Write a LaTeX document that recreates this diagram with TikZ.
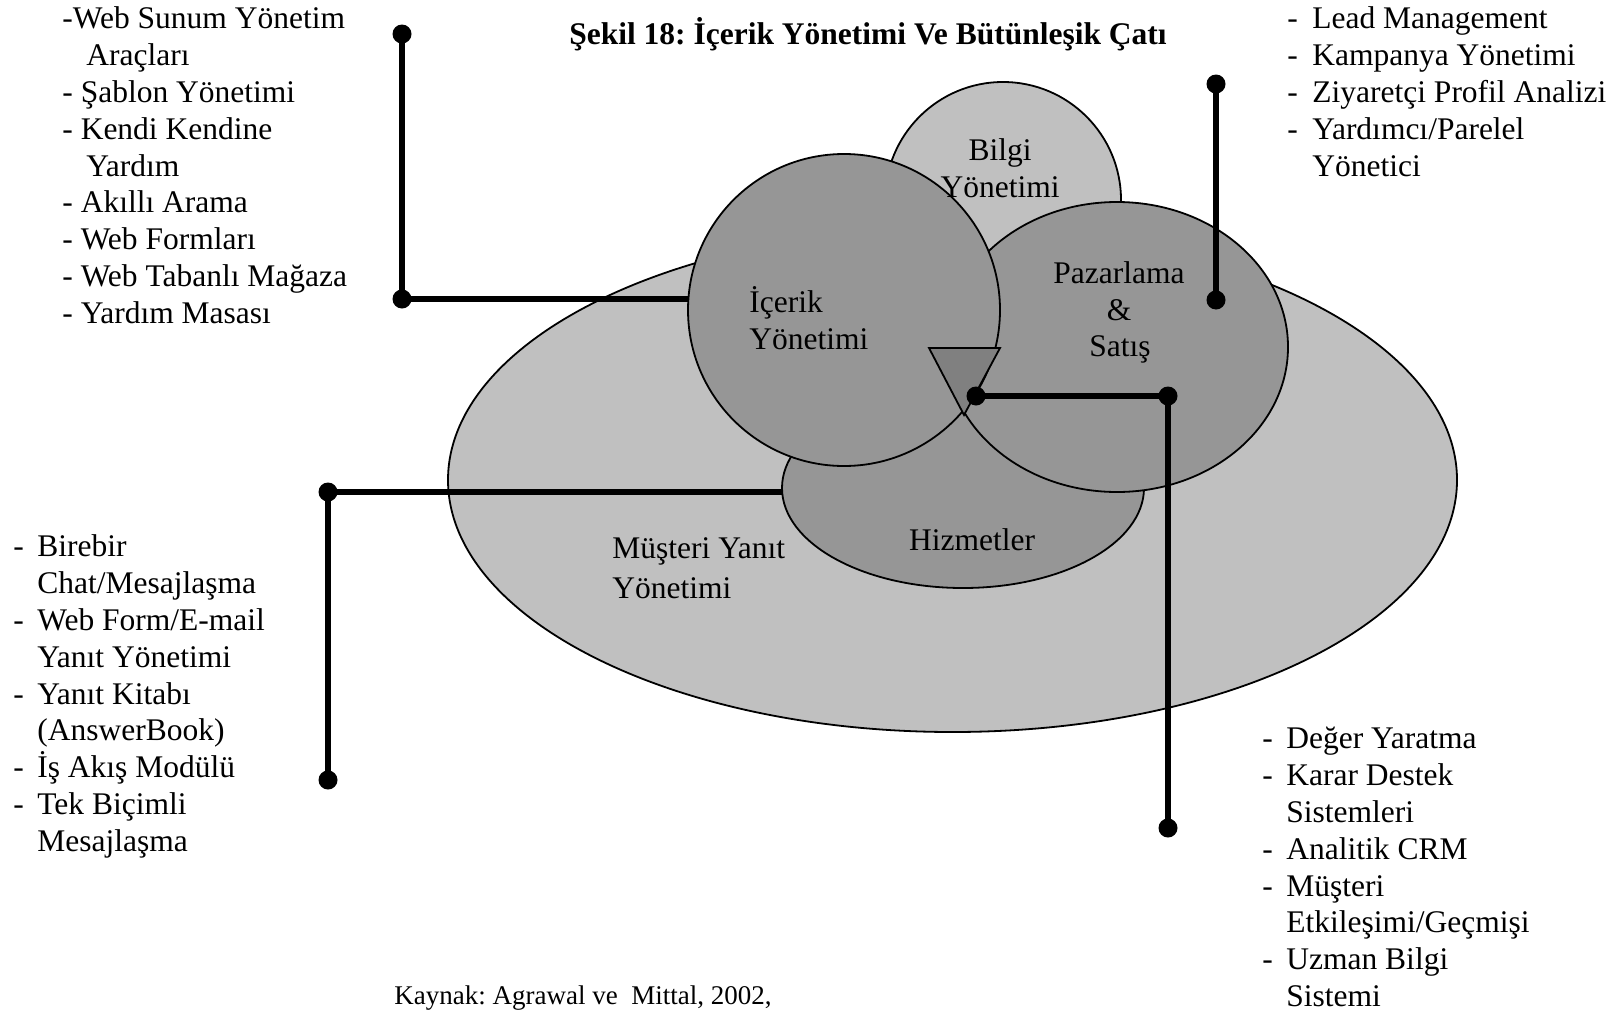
\documentclass[tikz,border=0pt]{standalone}
\usepackage{fontspec}
\setmainfont{Liberation Serif}
\usetikzlibrary{shapes.geometric}
\definecolor{lightfill}{RGB}{192,192,192}
\definecolor{midfill}{RGB}{150,150,150}
\definecolor{darkfill}{RGB}{128,128,128}
\frenchspacing
\begin{document}
\begin{tikzpicture}[x=0.5pt,y=-0.5pt,
  shp/.style={draw=black, line width=0.9pt},
  light/.style={shp, fill=lightfill},
  mid/.style={shp, fill=midfill},
  dotn/.style={circle, fill=black, inner sep=0pt, minimum size=9.5pt},
  conn/.style={line width=2.6pt},
  lbl/.style={inner sep=0pt, font=\fontsize{15.75}{18.4}\selectfont},
  lw/.style={lbl, anchor=base west},
  lc/.style={lbl, anchor=base},
]
\useasboundingbox (0,0) rectangle (1616,1012);
% shapes
\draw[light] (952.5,480) ellipse [x radius=252.25pt, y radius=126pt];
\draw[light] (1003,200) ellipse [x radius=59pt, y radius=59pt];
\draw[mid] (963,488) ellipse [x radius=90.5pt, y radius=50pt];
\draw[mid] (1117,347) ellipse [x radius=85.5pt, y radius=72.5pt];
\draw[mid] (844,310) ellipse [x radius=78pt, y radius=78pt];
\draw[shp, fill=darkfill] (929,348) -- (1000,348) -- (964,415) -- cycle;
% labels inside
\node[lc] (bilgi1) at (1000,160) {Bilgi};
\node[lc] (bilgi2) at (1000,197) {Yönetimi};
\node[lw] (icerik1) at (749,312) {İçerik};
\node[lw] (icerik2) at (749,349) {Yönetimi};
\node[lc] (paz1) at (1119,283) {Pazarlama};
\node[lc] (paz2) at (1119,320) {\&};
\node[lc] (paz3) at (1120,356) {Satış};
\node[lc] (hiz) at (972,550) {Hizmetler};
\node[lw] (mus1) at (612,558) {Müşteri Yanıt};
\node[lw] (mus2) at (612,598) {Yönetimi};
% title and source
\node[lc, font=\fontsize{15.75}{18.4}\selectfont\bfseries] (title) at (868,44.5) {Şekil 18: İçerik Yönetimi Ve Bütünleşik Çatı};
\node[lw, font=\fontsize{13.5}{16}\selectfont] (kaynak) at (394,1004) {Kaynak: Agrawal ve\ \ Mittal, 2002,};
% left top list
\node[lw] (a1) at (62,28.7) {-Web Sunum Yönetim};
\node[lw] (a2) at (86,65.55) {Araçları};
\node[lw] (a3) at (62,102.4) {- Şablon Yönetimi};
\node[lw] (a4) at (62,139.25) {- Kendi Kendine};
\node[lw] (a5) at (86,176.1) {Yardım};
\node[lw] (a6) at (62,212.95) {- Akıllı Arama};
\node[lw] (a7) at (62,249.8) {- Web Formları};
\node[lw] (a8) at (62,286.65) {- Web Tabanlı Mağaza};
\node[lw] (a9) at (62,323.5) {- Yardım Masası};
% right top list
\node[lw] (b1) at (1287,28.7) {\makebox[12.5pt][l]{-}Lead Management};
\node[lw] (b2) at (1287,65.55) {\makebox[12.5pt][l]{-}Kampanya Yönetimi};
\node[lw] (b3) at (1287,102.4) {\makebox[12.5pt][l]{-}Ziyaretçi Profil Analizi};
\node[lw] (b4) at (1287,139.25) {\makebox[12.5pt][l]{-}Yardımcı/Parelel};
\node[lw] (b5) at (1312,176.1) {Yönetici};
% left bottom list
\node[lw] (c1) at (13,556.7) {\makebox[12pt][l]{-}Birebir};
\node[lw] (c2) at (37,593.55) {Chat/Mesajlaşma};
\node[lw] (c3) at (13,630.4) {\makebox[12pt][l]{-}Web Form/E-mail};
\node[lw] (c4) at (37,667.25) {Yanıt Yönetimi};
\node[lw] (c5) at (13,704.1) {\makebox[12pt][l]{-}Yanıt Kitabı};
\node[lw] (c6) at (37,740.95) {(AnswerBook)};
\node[lw] (c7) at (13,777.8) {\makebox[12pt][l]{-}İş Akış Modülü};
\node[lw] (c8) at (13,814.65) {\makebox[12pt][l]{-}Tek Biçimli};
\node[lw] (c9) at (37,851.5) {Mesajlaşma};
% right bottom list
\node[lw] (e1) at (1262,748.7) {\makebox[12pt][l]{-}Değer Yaratma};
\node[lw] (e2) at (1262,785.55) {\makebox[12pt][l]{-}Karar Destek};
\node[lw] (e3) at (1286,822.4) {Sistemleri};
\node[lw] (e4) at (1262,859.25) {\makebox[12pt][l]{-}Analitik CRM};
\node[lw] (e5) at (1262,896.1) {\makebox[12pt][l]{-}Müşteri};
\node[lw] (e6) at (1286,932.95) {Etkileşimi/Geçmişi};
\node[lw] (e7) at (1262,969.8) {\makebox[12pt][l]{-}Uzman Bilgi};
\node[lw] (e8) at (1286,1006.65) {Sistemi};
% connector dots and ends
\node[dotn] (p1a) at (402,34) {};
\node[dotn] (p1b) at (402,299) {};
\coordinate (p1e) at (688,299);
\node[dotn] (p2a) at (1216,84) {};
\node[dotn] (p2b) at (1216,300) {};
\node[dotn] (p3a) at (328,492) {};
\node[dotn] (p3b) at (328,780) {};
\coordinate (p3e) at (783,492);
\node[dotn] (p4a) at (976,396) {};
\node[dotn] (p4b) at (1168,396) {};
\node[dotn] (p4c) at (1168,828) {};
% connectors
\draw[conn] (p1a.center) -- (p1b.center) -- (p1e);
\draw[conn] (p2a.center) -- (p2b.center);
\draw[conn] (p3e) -- (p3a.center) -- (p3b.center);
\draw[conn] (p4a.center) -- (p4b.center) -- (p4c.center);
\end{tikzpicture}
\end{document}
